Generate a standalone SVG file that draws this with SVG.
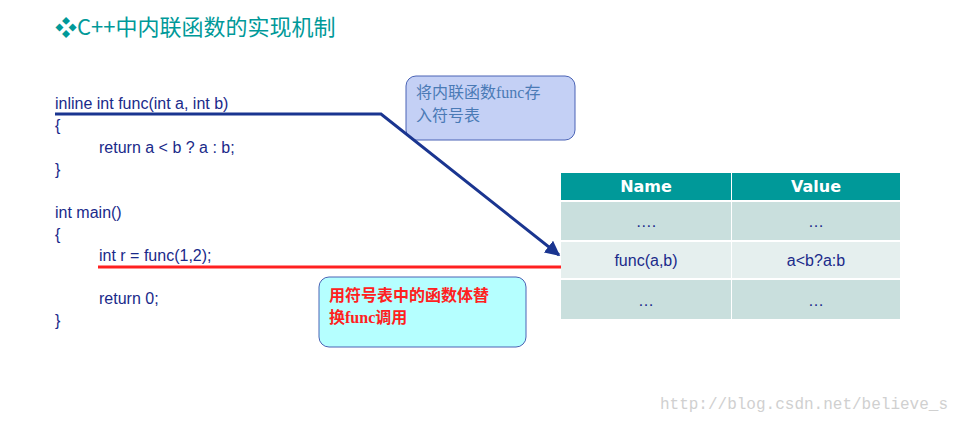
<svg xmlns="http://www.w3.org/2000/svg" width="959" height="422" viewBox="0 0 959 422">
<style>
.code{font-family:"Liberation Sans","DejaVu Sans",sans-serif;font-size:16px;fill:#1a2a8a}
.cell{font-family:"Liberation Sans",sans-serif;font-size:16px;fill:#1a2a8a;text-anchor:middle}
.hd{font-family:"DejaVu Sans",sans-serif;font-weight:bold;font-size:16px;fill:#fff;text-anchor:middle}
.cn{font-family:"Liberation Serif","Noto Sans CJK SC",serif;font-size:16px}
</style>
<defs><marker id="ah" viewBox="0 0 10 10" refX="9" refY="5" markerWidth="5" markerHeight="5" orient="auto"><path d="M0,0L10,5L0,10z" fill="#1a3590"/></marker></defs>
<rect width="959" height="422" fill="#fff"/>
<g id="title"><text x="55" y="35" font-family="'Noto Sans CJK SC',sans-serif" font-size="22" fill="#009999">❖C++中内联函数的实现机制</text></g>
<g id="code">
<text class="code" x="55" y="109">inline int func(int a, int b)</text>
<text class="code" x="55" y="131">{</text>
<text class="code" x="99" y="153">return a &lt; b ? a : b;</text>
<text class="code" x="55" y="175">}</text>
<text class="code" x="55" y="218">int main()</text>
<text class="code" x="55" y="240">{</text>
<text class="code" x="99" y="261">int r = func(1,2);</text>
<text class="code" x="99" y="304">return 0;</text>
<text class="code" x="55" y="326">}</text>
</g>
<g id="note1"><rect x="406" y="76" width="169" height="64" rx="10" fill="#c4d0f5" stroke="#4a63b5"/>
<text class="cn" x="416" y="98" fill="#4a7ab5">将内联函数func存</text><text class="cn" x="416" y="121" fill="#4a7ab5">入符号表</text></g>
<g id="note2"><rect x="319" y="277" width="207" height="70" rx="10" fill="#b5ffff" stroke="#4a63b5"/>
<text class="cn" x="329" y="301" fill="#ff2020" font-weight="bold">用符号表中的函数体替</text><text class="cn" x="329" y="323" fill="#ff2020" font-weight="bold">换func调用</text></g>
<g id="table">
<rect x="561" y="173" width="339" height="27" fill="#009999"/>
<rect x="561" y="202" width="339" height="38" fill="#c9dfdd"/>
<rect x="561" y="242" width="339" height="36" fill="#e5efee"/>
<rect x="561" y="280" width="339" height="39" fill="#c9dfdd"/>
<line x1="731.5" y1="173" x2="731.5" y2="319" stroke="#fff"/>
<text class="hd" x="646" y="192">Name</text><text class="hd" x="816" y="192">Value</text>
<text class="cell" x="646" y="227">….</text><text class="cell" x="816" y="227">…</text>
<text class="cell" x="646" y="266">func(a,b)</text><text class="cell" x="816" y="266">a&lt;b?a:b</text>
<text class="cell" x="646" y="306">…</text><text class="cell" x="816" y="306">…</text>
</g>
<g id="connectors" fill="none">
<polyline points="55,114 381,114 559,255" stroke="#1a3590" stroke-width="3" marker-end="url(#ah)"/>
<line x1="98" y1="267" x2="561" y2="267" stroke="#ff2020" stroke-width="3"/>
</g>
<text x="948" y="409" text-anchor="end" font-family="'Liberation Mono',monospace" font-size="16" fill="#d0d0d0">http://blog.csdn.net/believe_s</text>
</svg>
